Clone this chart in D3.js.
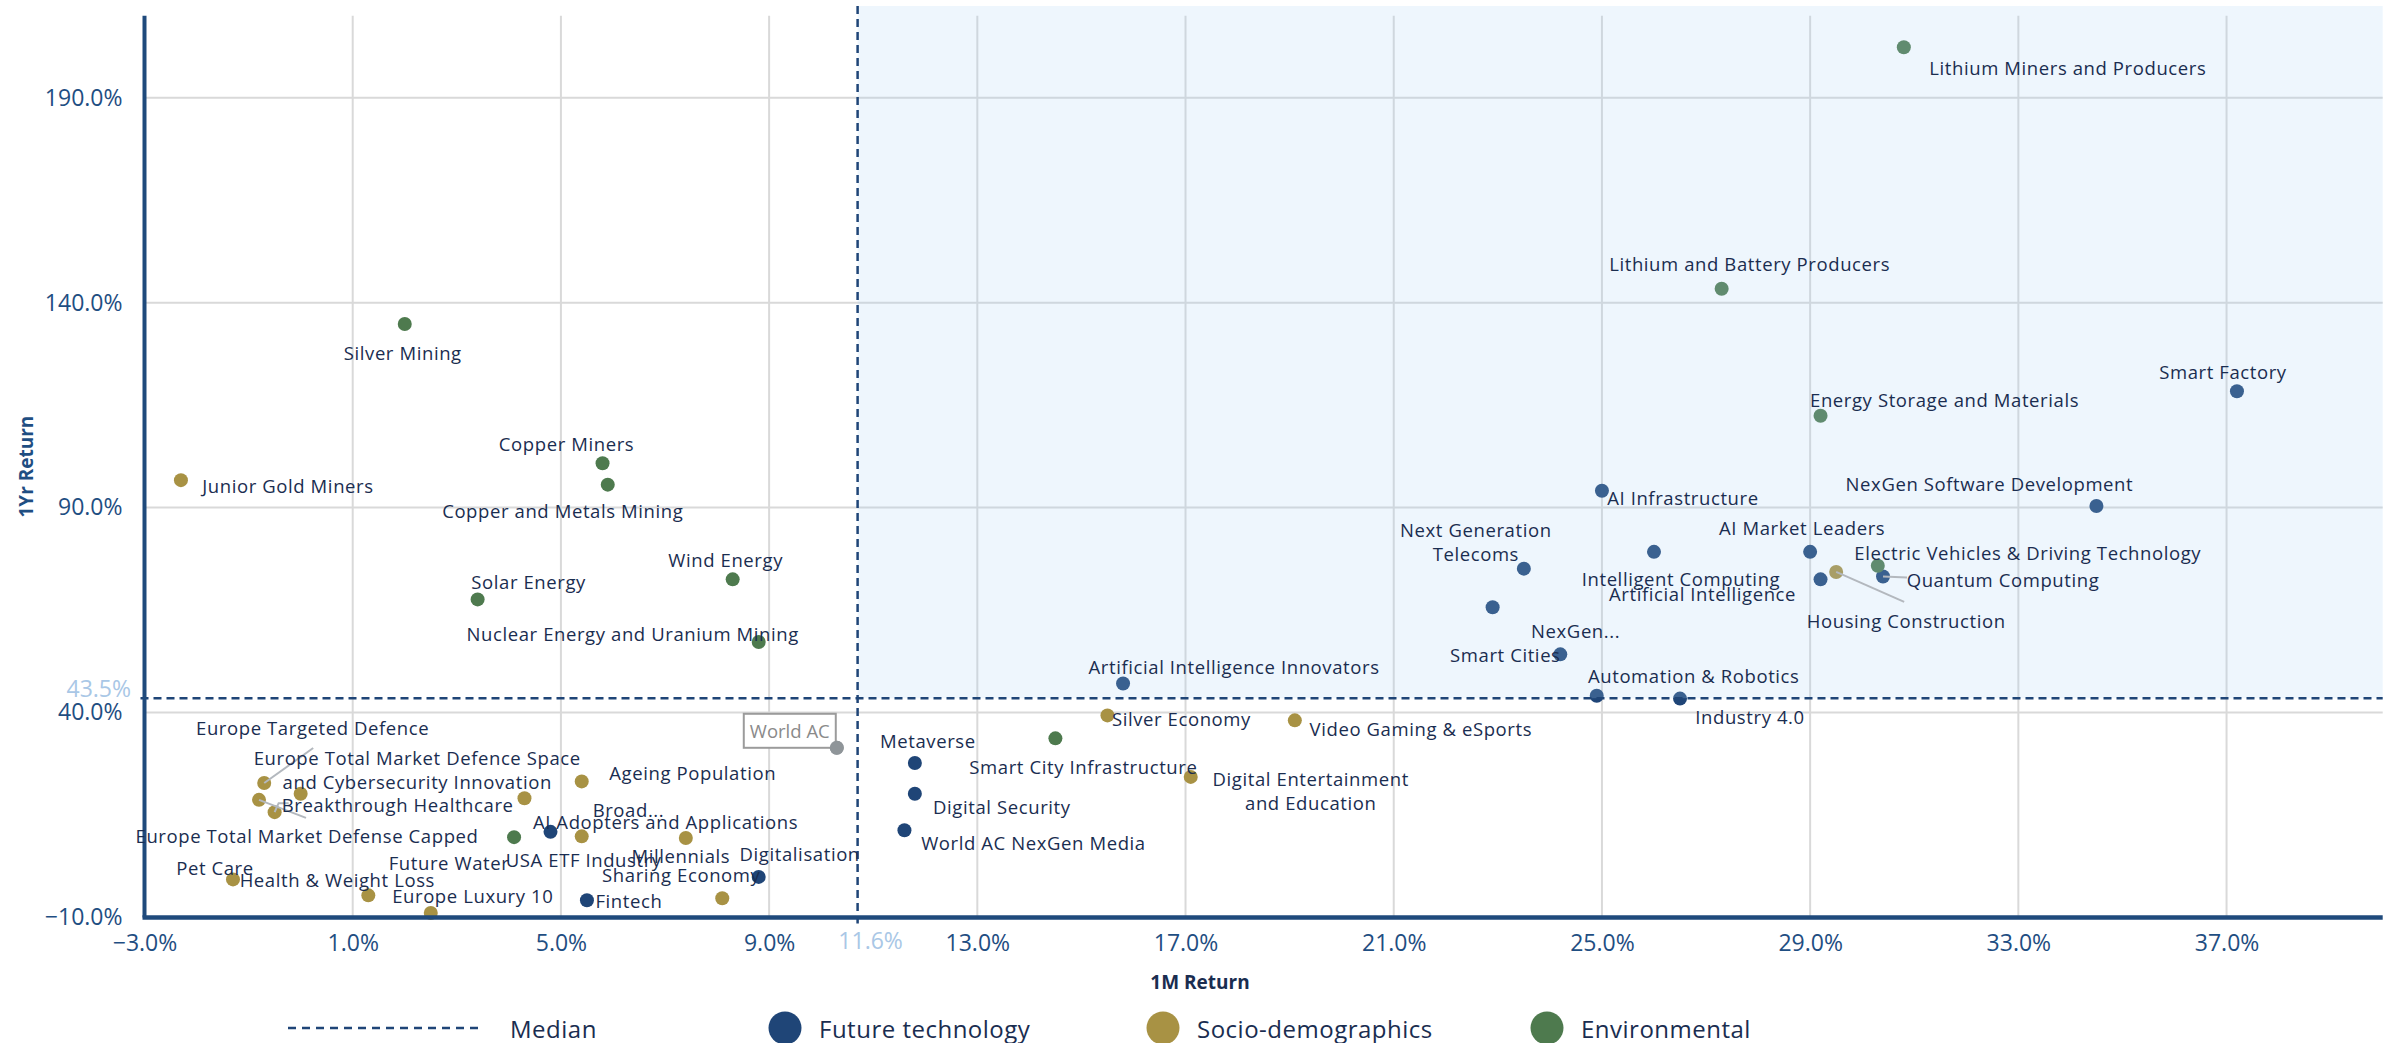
<!DOCTYPE html>
<html>
<head>
<meta charset="utf-8">
<script src="https://cdn.jsdelivr.net/npm/d3@7"></script>
<style>
  body { margin: 0; background: #fff; }
  svg text { font-family: "Open Sans", Lato, sans-serif; }
</style>
</head>
<body>
<svg id="chart"></svg>
<script>
// ---- data ----
const names = [
  'Smart Factory', 'NexGen Software Development', 'AI Infrastructure', 'Next Generation\nTelecoms',
  'Intelligent Computing', 'AI Market Leaders', 'Artificial Intelligence', 'Quantum Computing',
  'NexGen...', 'Smart Cities', 'Artificial Intelligence Innovators', 'Automation & Robotics',
  'Industry 4.0', 'Metaverse', 'Digital Security', 'World AC NexGen Media', 'Digitalisation',
  'Fintech', 'AI Adopters and Applications',
  'Housing Construction', 'Junior Gold Miners', 'Silver Economy', 'Video Gaming & eSports',
  'Digital Entertainment\nand Education', 'Europe Targeted Defence',
  'Europe Total Market Defence Space\nand Cybersecurity Innovation', 'Breakthrough Healthcare',
  'Europe Total Market Defense Capped', 'Pet Care', 'Health & Weight Loss', 'Europe Luxury 10',
  'USA ETF Industry', 'Broad...', 'Ageing Population', 'Millennials', 'Sharing Economy',
  'Lithium Miners and Producers', 'Lithium and Battery Producers', 'Energy Storage and Materials',
  'Silver Mining', 'Copper Miners', 'Copper and Metals Mining', 'Wind Energy', 'Solar Energy',
  'Nuclear Energy and Uranium Mining', 'Smart City Infrastructure',
  'Electric Vehicles & Driving Technology', 'Future Water',
  'World AC'
]
const themes = [
  'Future technology','Future technology','Future technology','Future technology','Future technology',
  'Future technology','Future technology','Future technology','Future technology','Future technology',
  'Future technology','Future technology','Future technology','Future technology','Future technology',
  'Future technology','Future technology','Future technology','Future technology',
  'Socio-demographics','Socio-demographics','Socio-demographics','Socio-demographics','Socio-demographics',
  'Socio-demographics','Socio-demographics','Socio-demographics','Socio-demographics','Socio-demographics',
  'Socio-demographics','Socio-demographics','Socio-demographics','Socio-demographics','Socio-demographics',
  'Socio-demographics','Socio-demographics',
  'Environmental','Environmental','Environmental','Environmental','Environmental','Environmental',
  'Environmental','Environmental','Environmental','Environmental','Environmental','Environmental',
  'Benchmark'
]
const oneMonth = [
  37.2, 34.5, 25.0, 23.5, 26.0, 29.0, 29.2, 30.4, 22.9, 24.2, 15.8, 24.9, 26.5, 11.8, 11.8, 11.6, 8.8, 5.5, 4.8,
  29.5, -2.3, 15.5, 19.1, 17.1, 0.0, -0.7, -0.5, -0.8, -1.3, 1.3, 2.5, 5.4, 4.3, 5.4, 7.4, 8.1,
  30.8, 27.3, 29.2, 2.0, 5.8, 5.9, 8.3, 3.4, 8.8, 14.5, 30.3, 4.1,
  10.3
]
const oneYear = [
  118.4, 90.4, 94.1, 75.1, 79.2, 79.2, 72.5, 73.2, 65.7, 54.2, 47.1, 44.1, 43.4, 27.7, 20.2, 11.3, -0.1, -5.8, 10.9,
  74.3, 96.7, 39.3, 38.1, 24.3, 20.2, 22.8, 15.7, 18.7, -0.7, -4.6, -8.9, 9.8, 19.1, 23.2, 9.4, -5.3,
  202.3, 143.4, 112.4, 134.8, 100.8, 95.6, 72.5, 67.6, 57.2, 33.7, 75.8, 9.6,
  31.4
]
const xTicks = [-3, 1, 5, 9, 13, 17, 21, 25, 29, 33, 37]
const yTicks = [-10, 40, 90, 140, 190]
const medianX = 10.7      // where the vertical median line sits on the axis
const medianY = 43.5
const medianXLabel = '11.6%'
const medianYLabel = '43.5%'
const legendNames = ['Future technology', 'Socio-demographics', 'Environmental']

// ---- look ----
const W = 2405, H = 1043
const colors = { 'Future technology': '#1F4577', 'Socio-demographics': '#A89244', 'Environmental': '#4E7A4E', 'Benchmark': '#8F9599' }
const navy = '#1A2D50', tickBlue = '#1F4E82', paleBlue = '#A9C7E6'

// label offsets from the dot (px), chosen to follow the reference layout
const labelPos = {
  'Smart Factory': [-14,-20], 'NexGen Software Development': [-107,-23], 'AI Infrastructure': [81,6],
  'Next Generation\nTelecoms': [-48,-28], 'Intelligent Computing': [27,26], 'AI Market Leaders': [-8,-25],
  'Artificial Intelligence': [-118,14], 'Quantum Computing': [120,3], 'NexGen...': [83,23],
  'Smart Cities': [-55,0], 'Artificial Intelligence Innovators': [111,-17], 'Automation & Robotics': [97,-21],
  'Industry 4.0': [70,17], 'Metaverse': [13,-23], 'Digital Security': [87,12], 'World AC NexGen Media': [129,12],
  'Digitalisation': [41,-24], 'Fintech': [42,0], 'AI Adopters and Applications': [115,-11],
  'Housing Construction': [70,48], 'Junior Gold Miners': [107,5], 'Silver Economy': [74,3],
  'Video Gaming & eSports': [126,8], 'Digital Entertainment\nand Education': [120,13],
  'Europe Targeted Defence': [12,-67], 'Europe Total Market Defence Space\nand Cybersecurity Innovation': [153,-14],
  'Breakthrough Healthcare': [123,-8], 'Europe Total Market Defense Capped': [48,35], 'Pet Care': [-18,-12],
  'Health & Weight Loss': [-31,-16], 'Europe Luxury 10': [42,-18], 'USA ETF Industry': [2,23],
  'Broad...': [104,11], 'Ageing Population': [111,-9], 'Millennials': [-5,17], 'Sharing Economy': [-41,-24],
  'Lithium Miners and Producers': [164,20], 'Lithium and Battery Producers': [28,-26],
  'Energy Storage and Materials': [124,-17], 'Silver Mining': [-2,28], 'Copper Miners': [-36,-20],
  'Copper and Metals Mining': [-45,25], 'Wind Energy': [-7,-20], 'Solar Energy': [51,-18],
  'Nuclear Energy and Uranium Mining': [-126,-9], 'Smart City Infrastructure': [28,28],
  'Electric Vehicles & Driving Technology': [150,-14], 'Future Water': [-65,25]
}
const leaders = {
  'Quantum Computing': [[0,0],[24,1]],
  'Housing Construction': [[0,0],[68,30]],
  'Europe Total Market Defence Space\nand Cybersecurity Innovation': [[0,0],[49,-35]],
  'Breakthrough Healthcare': [[0,0],[4,-9],[14,-9]],
  'Europe Total Market Defense Capped': [[0,0],[47,18]]
}

const points = names.map((n, i) => ({ name: n, theme: themes[i], x: oneMonth[i], y: oneYear[i] }))

const svg = d3.select('#chart').attr('width', W).attr('height', H)

const x = d3.scaleLinear().domain([-3, 40]).range([144.5, 2382.7])
const y = d3.scaleLinear().domain([-10, 210]).range([917.5, 15.7])

// gridlines
const grid = svg.append('g')
grid.selectAll('.vg').data(xTicks.slice(1)).enter().append('line')
  .attr('x1', d => x(d)).attr('x2', d => x(d))
  .attr('y1', y(210)).attr('y2', y(-10))
  .attr('stroke', '#D9D9D9').attr('stroke-width', 2)
grid.selectAll('.hg').data(yTicks.slice(1)).enter().append('line')
  .attr('x1', x(-3)).attr('x2', x(40))
  .attr('y1', d => y(d)).attr('y2', d => y(d))
  .attr('stroke', '#D9D9D9').attr('stroke-width', 2)

// dots
svg.append('g').selectAll('circle').data(points).enter().append('circle')
  .attr('cx', d => x(d.x)).attr('cy', d => y(d.y)).attr('r', 7)
  .attr('fill', d => colors[d.theme])

// shaded quadrant (sits over the dots, under the labels)
svg.append('rect')
  .attr('x', x(medianX)).attr('y', 6)
  .attr('width', x(40) - x(medianX)).attr('height', y(medianY) - 6)
  .attr('fill', 'rgb(168,210,245)').attr('opacity', 0.2)

// median lines
svg.append('line')
  .attr('x1', x(-3) - 4).attr('x2', x(40))
  .attr('y1', y(medianY)).attr('y2', y(medianY))
  .attr('stroke', '#1F4577').attr('stroke-width', 2.5).attr('stroke-dasharray', '8,5')
svg.append('line')
  .attr('x1', x(medianX)).attr('x2', x(medianX))
  .attr('y1', 6).attr('y2', y(-10) + 6)
  .attr('stroke', '#1F4577').attr('stroke-width', 2.5).attr('stroke-dasharray', '8,5')

// axes
const xAxis = d3.axisBottom(x).tickValues(xTicks).tickSize(0).tickPadding(22)
  .tickFormat(d => d3.format('.1f')(d) + '%')
const yAxis = d3.axisLeft(y).tickValues(yTicks).tickSize(0).tickPadding(22)
  .tickFormat(d => d3.format('.1f')(d) + '%')
const gx = svg.append('g').attr('transform', `translate(0,${y(-10)})`).call(xAxis)
const gy = svg.append('g').attr('transform', `translate(${x(-3)},0)`).call(yAxis)
gx.select('.domain').remove()
gy.select('.domain').remove()
gx.selectAll('text').attr('font-size', 23).attr('fill', tickBlue).attr('font-family', 'Lato').attr('dy', '0.5em')
gy.selectAll('text').attr('font-size', 23).attr('fill', tickBlue).attr('font-family', 'Lato')

svg.append('line')
  .attr('x1', x(-3)).attr('x2', x(-3)).attr('y1', y(210)).attr('y2', y(-10))
  .attr('stroke', '#1F4A7C').attr('stroke-width', 4)
svg.append('line')
  .attr('x1', x(-3) - 2).attr('x2', x(40)).attr('y1', y(-10)).attr('y2', y(-10))
  .attr('stroke', '#1F4A7C').attr('stroke-width', 4.5)

// median labels
svg.append('text').text(medianYLabel)
  .attr('x', 131).attr('y', y(medianY) - 1).attr('text-anchor', 'end')
  .attr('font-size', 23).attr('font-family', 'Lato').attr('fill', paleBlue)
svg.append('text').text(medianXLabel)
  .attr('x', x(medianX) + 13).attr('y', 940).attr('text-anchor', 'middle').attr('dominant-baseline', 'central')
  .attr('font-size', 23).attr('font-family', 'Lato').attr('fill', paleBlue)

// axis titles
svg.append('text').text('1M Return')
  .attr('x', 1200).attr('y', 982).attr('text-anchor', 'middle').attr('dominant-baseline', 'central')
  .attr('font-size', 19).attr('font-weight', 700).attr('fill', navy)
svg.append('text').text('1Yr Return')
  .attr('transform', `translate(26,${(y(210) + y(-10)) / 2}) rotate(-90)`)
  .attr('text-anchor', 'middle').attr('dominant-baseline', 'central')
  .attr('font-size', 19).attr('font-weight', 700).attr('fill', tickBlue)

// leader lines
const lineGen = d3.line()
points.filter(d => leaders[d.name]).forEach(d => {
  svg.append('path')
    .attr('d', lineGen(leaders[d.name].map(p => [x(d.x) + p[0], y(d.y) + p[1]])))
    .attr('fill', 'none').attr('stroke', '#B3B8BE').attr('stroke-width', 2)
})

// point labels
const labels = svg.append('g')
points.filter(d => labelPos[d.name]).forEach(d => {
  const lines = d.name.split('\n')
  const [dx, dy] = labelPos[d.name]
  const t = labels.append('text')
    .attr('text-anchor', 'middle').attr('dominant-baseline', 'central')
    .attr('font-size', 18.5).attr('letter-spacing', 0.6).attr('fill', navy)
  lines.forEach((l, i) => {
    t.append('tspan').text(l)
      .attr('x', x(d.x) + dx)
      .attr('y', y(d.y) + dy + (i - (lines.length - 1) / 2) * 24)
  })
})

// benchmark box label
const bench = points.find(d => d.theme === 'Benchmark')
svg.append('rect')
  .attr('x', x(bench.x) - 93).attr('y', y(bench.y) - 34).attr('width', 92).attr('height', 34)
  .attr('fill', '#fff').attr('stroke', '#9B9B9B').attr('stroke-width', 2)
svg.append('text').text(bench.name)
  .attr('x', x(bench.x) - 47).attr('y', y(bench.y) - 17)
  .attr('text-anchor', 'middle').attr('dominant-baseline', 'central')
  .attr('font-size', 18.5).attr('fill', '#8A8A8A')
svg.append('circle').attr('cx', x(bench.x)).attr('cy', y(bench.y)).attr('r', 7).attr('fill', colors.Benchmark)

// legend
const legend = svg.append('g').attr('transform', 'translate(0,1028)')
legend.append('line').attr('x1', 288).attr('x2', 478).attr('y1', 0).attr('y2', 0)
  .attr('stroke', '#1F4577').attr('stroke-width', 2.5).attr('stroke-dasharray', '8,6')
legend.append('text').text('Median').attr('x', 510).attr('y', 0)
  .attr('dominant-baseline', 'central').attr('font-size', 24).attr('letter-spacing', 0.5).attr('fill', navy)
const legendX = [785, 1163, 1547]
legendNames.forEach((n, i) => {
  legend.append('circle').attr('cx', legendX[i]).attr('cy', 0).attr('r', 16.5).attr('fill', colors[n])
  legend.append('text').text(n).attr('x', legendX[i] + 34).attr('y', 0)
    .attr('dominant-baseline', 'central').attr('font-size', 24).attr('letter-spacing', 0.5).attr('fill', navy)
})
</script>
</body>
</html>
